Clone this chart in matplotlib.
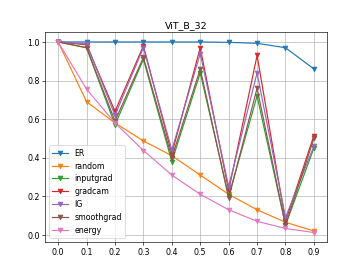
import matplotlib
matplotlib.use("Agg")
import matplotlib.pyplot as plt

# fraction of features removed
x = [0.0, 0.1, 0.2, 0.3, 0.4, 0.5, 0.6, 0.7, 0.8, 0.9]

er = [1.0, 1.0, 1.0, 1.0, 1.0, 1.0, 0.998, 0.993, 0.97, 0.86]
random = [1.0, 0.69, 0.58, 0.487, 0.41, 0.31, 0.21, 0.13, 0.065, 0.02]
inputgrad = [1.0, 0.97, 0.57, 0.91, 0.38, 0.84, 0.20, 0.72, 0.05, 0.45]
gradcam = [1.0, 0.985, 0.64, 0.98, 0.42, 0.97, 0.23, 0.93, 0.07, 0.515]
ig = [1.0, 0.99, 0.62, 0.97, 0.44, 0.94, 0.25, 0.84, 0.09, 0.46]
smoothgrad = [1.0, 0.97, 0.59, 0.92, 0.40, 0.86, 0.19, 0.76, 0.05, 0.50]
energy = [1.0, 0.755, 0.58, 0.437, 0.31, 0.21, 0.13, 0.07, 0.033, 0.012]

series = {
    "ER": er,
    "random": random,
    "inputgrad": inputgrad,
    "gradcam": gradcam,
    "IG": ig,
    "smoothgrad": smoothgrad,
    "energy": energy,
}

fig, ax = plt.subplots(figsize=(6.4, 4.8))
for name, vals in series.items():
    ax.plot(x, vals, marker="v", label=name)

ax.set_title("ViT_B_32")
ax.set_xticks(x)
ax.grid(True)
ax.legend(loc="lower left")

fig.savefig("out.png", dpi=363 / 6.4)
